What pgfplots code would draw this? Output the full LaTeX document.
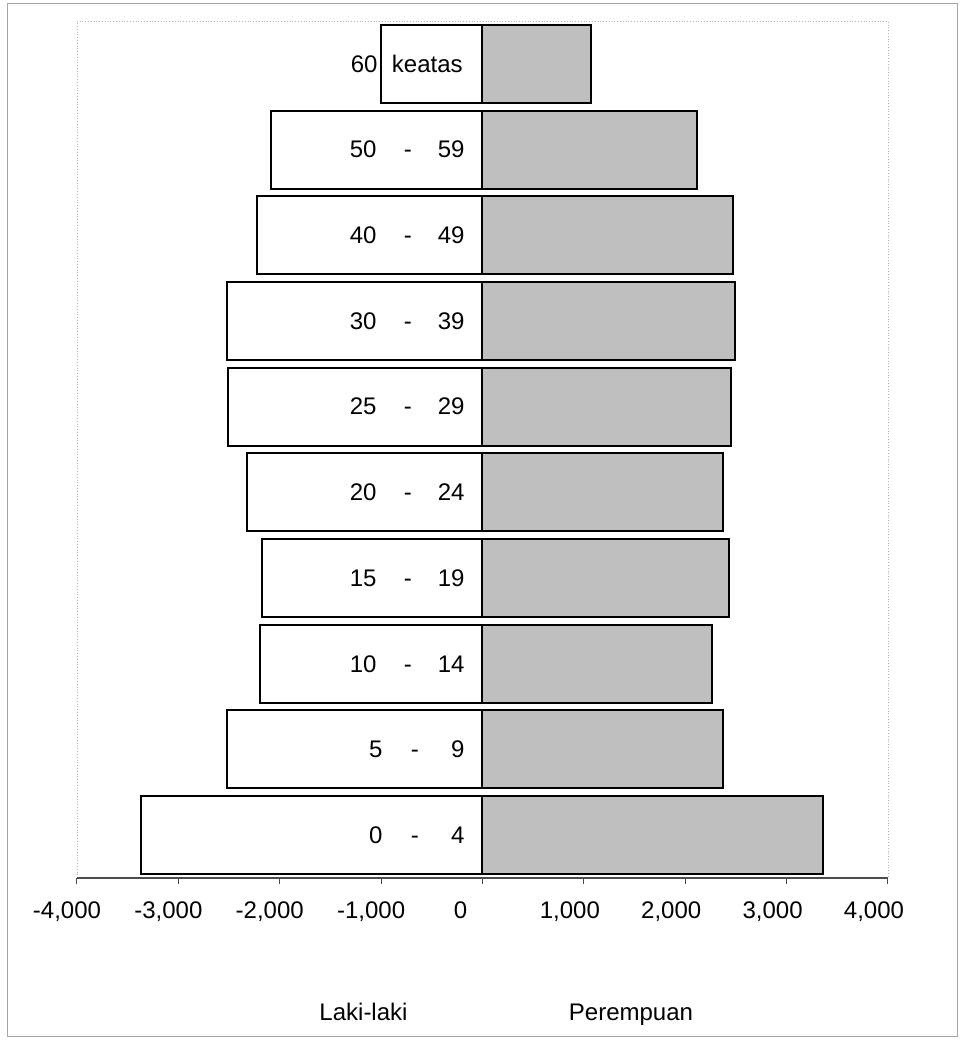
\documentclass[border=0pt]{standalone}
\usepackage{fontspec}
\setmainfont{Liberation Sans}
\usepackage{pgfplots}
\pgfplotsset{compat=1.18}
\usepackage{pgfplotstable}

% y: 0 = 0-4 ... 9 = 60 keatas
\pgfplotstableread{
y laki perempuan
0 -3371 3361
1 -2522 2374
2 -2197 2265
3 -2177 2433
4 -2325 2374
5 -2512 2453
6 -2522 2492
7 -2226 2473
8 -2088 2114
9 -1002 1068
}\pyramid

\newcommand{\agetwo}[3]{%
  \node[anchor=east] at (axis cs:-1041,#1) {#2};
  \node at (axis cs:-735,#1) {\vphantom{0}-};
  \node[anchor=east] at (axis cs:-173,#1) {#3};}
\newcommand{\ageone}[3]{%
  \node[anchor=east] at (axis cs:-982,#1) {#2};
  \node at (axis cs:-666,#1) {\vphantom{0}-};
  \node[anchor=east] at (axis cs:-173,#1) {#3};}
\newcommand{\pad}[1]{\rule{#1}{0pt}}

\begin{document}
\begin{tikzpicture}
\begin{axis}[
  at={(38.5pt,81pt)}, anchor=south west,
  scale only axis, width=405.5pt, height=428.5pt,
  xmin=-4000, xmax=4000, ymin=-0.5, ymax=9.5,
  xbar, bar width=0.91,
  axis line style={draw=gray!60, densely dotted},
  xtick={-4000,-3000,...,4000},
  xticklabels={{-4,000\pad{10pt}},{-3,000\pad{10pt}},{-2,000\pad{10pt}},{-1,000\pad{10pt}},{0\pad{22pt}},{1,000\pad{14pt}},{2,000\pad{14pt}},{3,000\pad{14pt}},{4,000\pad{14pt}}},
  xtick pos=bottom, xtick align=outside, major tick length=3pt,
  tick style={black!70, solid, line width=0.5pt},
  ytick=\empty,
  xticklabel style={font=\fontsize{12}{14}\selectfont, yshift=-5.5pt},
  clip=false,
]
\addplot[bar shift=0pt, draw=black, line width=1pt, fill=black!25] table[x=perempuan, y=y] {\pyramid};
\addplot[bar shift=0pt, draw=black, line width=1pt, fill=white] table[x=laki, y=y] {\pyramid};
\draw[black!70, line width=0.6pt] (rel axis cs:0,0) -- (rel axis cs:1,0);

\begin{scope}[every node/.style={inner sep=0pt, font=\fontsize{12}{14}\selectfont}]
\ageone{0}{0}{4}
\ageone{1}{5}{9}
\agetwo{2}{10}{14}
\agetwo{3}{15}{19}
\agetwo{4}{20}{24}
\agetwo{5}{25}{29}
\agetwo{6}{30}{39}
\agetwo{7}{40}{49}
\agetwo{8}{50}{59}
\node[anchor=east] at (axis cs:-1031,9) {60};
\node[anchor=east] at (axis cs:-192,9) {keatas};
\end{scope}
\end{axis}

\node[anchor=base, font=\fontsize{12}{14}\selectfont] at (181.75pt,9.5pt) {Laki-laki};
\node[anchor=base, font=\fontsize{12}{14}\selectfont] at (315.5pt,9.5pt) {Perempuan};
\draw[gray!70, line width=0.5pt] (3.5pt,1.5pt) rectangle (478.5pt,518pt);

\pgfresetboundingbox
\useasboundingbox (0,0) rectangle (481pt,520pt);
\end{tikzpicture}
\end{document}
